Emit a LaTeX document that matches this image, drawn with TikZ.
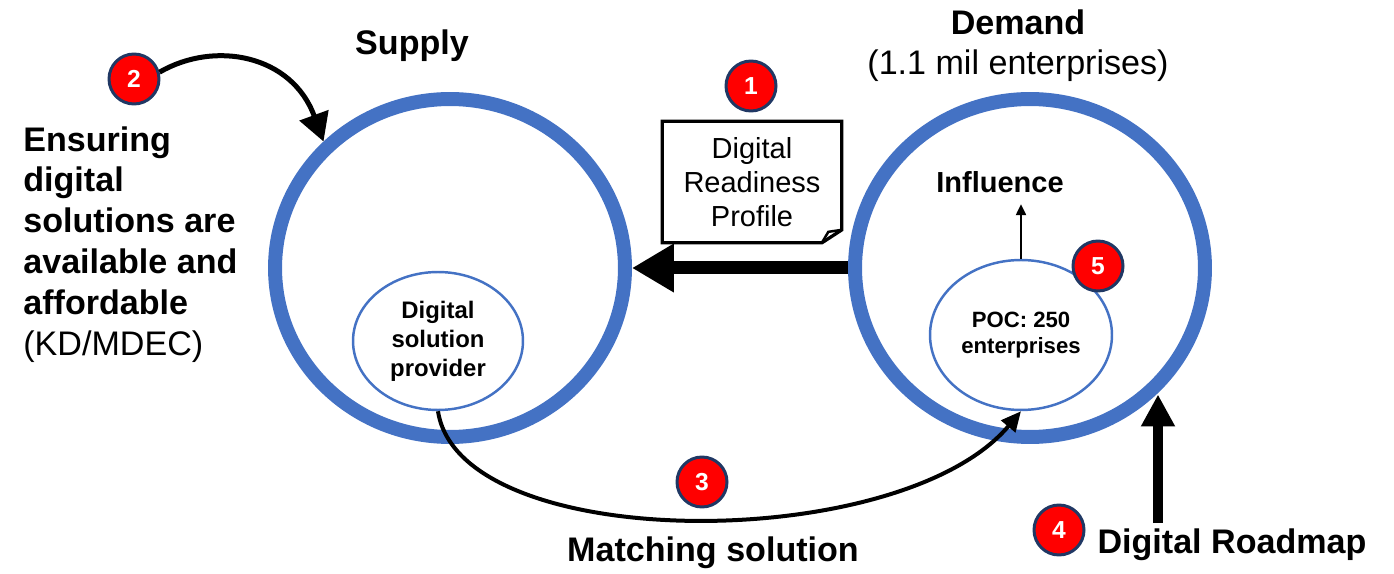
\documentclass[tikz,border=0pt]{standalone}
\usepackage{fontspec}
\setmainfont{Liberation Sans}
\usepackage{xcolor}
\usepackage{tikz}
\usetikzlibrary{shapes.geometric,arrows.meta}

\definecolor{ringblue}{HTML}{4472C4}
\definecolor{badgered}{HTML}{FF0000}
\definecolor{badgenavy}{HTML}{203864}

\begin{document}
\begin{tikzpicture}[x=0.02cm,y=-0.02cm,
  ring/.style={ellipse,draw=ringblue,line width=0.28cm,minimum width=7cm,minimum height=6.76cm},
  inring/.style={ellipse,draw=ringblue,line width=1.4pt,fill=white,align=center,inner sep=1pt},
  badge/.style={circle,fill=badgered,draw=badgenavy,line width=1.7pt,minimum size=1cm,inner sep=0pt,
    text=white,font=\bfseries\fontsize{14}{14}\selectfont},
  big/.style={font=\fontsize{19.4}{23.3}\selectfont}]
  \useasboundingbox (0,0) rectangle (1394,574);

  % Draw the supply and demand rings
  \node[ring] (supply) at (450,268) {};
  \node[ring] (demand) at (1030,268) {};

  % Inner ellipses
  \node[inring,minimum width=3.4cm,minimum height=2.76cm,font=\bfseries\fontsize{13.6}{16.5}\selectfont]
    (provider) at (438,341) {Digital\\solution\\provider};
  \node[inring,minimum width=3.64cm,minimum height=3cm,font=\bfseries\fontsize{12.6}{14.8}\selectfont]
    (poc) at (1021,335) {POC: 250\\enterprises};

  % Titles
  \node[big] (supplylbl) at (412,46) {\textbf{Supply}};
  \node[big,align=center,inner sep=0pt,anchor=north,font=\fontsize{19.4}{23}\selectfont]
    (demandlbl) at (1018,9) {\textbf{Demand}\\(1.1 mil enterprises)};
  \node[big,anchor=north west,align=left,inner sep=0pt] (ensure) at (23,126)
    {\textbf{Ensuring}\\\textbf{digital}\\\textbf{solutions are}\\\textbf{available and}\\\textbf{affordable}\\(KD/MDEC)};
  \node[big] (matching) at (713,553) {\textbf{Matching solution}};
  \node[big] (roadmap) at (1232,545) {\textbf{Digital Roadmap}};
  \node[font=\bfseries\fontsize{16.5}{19}\selectfont] (influence) at (1000,182) {Influence};

  % Digital readiness profile sheet with folded corner
  \node[align=center,font=\fontsize{16.5}{19.3}\selectfont,minimum width=3.58cm,minimum height=2.42cm]
    (drp) at (752,182) {Digital\\Readiness\\Profile};
  \draw[line width=0.066cm,fill=white] (drp.north west) -- (drp.north east) -- ([yshift=0.26cm]drp.south east)
    -- ([xshift=-0.4cm]drp.south east) -- (drp.south west) -- cycle;
  \node[align=center,font=\fontsize{16.5}{19.3}\selectfont] at (drp) {Digital\\Readiness\\Profile};
  \draw[line width=0.05cm] ([yshift=0.26cm]drp.south east) -- ([xshift=-0.27cm,yshift=0.22cm]drp.south east)
    -- ([xshift=-0.4cm]drp.south east);

  % Profile goes from demand to supply
  \draw[line width=0.26cm,-{Triangle[length=0.84cm,width=0.92cm]}] (demand.west) -- (supply.east);

  % Influence from the POC
  \draw[line width=0.04cm,-{Triangle[length=0.22cm,width=0.2cm]}] (poc.north) -- ([yshift=-3pt]poc.north |- influence.south);

  % Matching solution
  \draw[line width=0.08cm,-{Triangle[length=0.4cm,width=0.36cm]}] (provider.south)
    .. controls (460,555) and (900,555) .. (poc.south);

  % Digital roadmap into demand
  \coordinate (rmtail) at (1158,523);
  \draw[line width=0.2cm,-{Triangle[length=0.64cm,width=0.64cm]}] (rmtail) -- (rmtail |- demand.-45);

  % Numbered badges
  \node[badge] (b1) at (751,86) {1};
  \node[badge] (b2) at (134,79) {2};
  \node[badge] (b3) at (702,482) {3};
  \node[badge] (b4) at (1059,530) {4};
  \node[badge] (b5) at (1098,266) {5};

  % Ensuring supply
  \draw[line width=0.1cm,-{Triangle[length=0.56cm,width=0.6cm]}] (b2.15)
    .. controls (215,40) and (292,55) .. (supply.135);
\end{tikzpicture}
\end{document}
